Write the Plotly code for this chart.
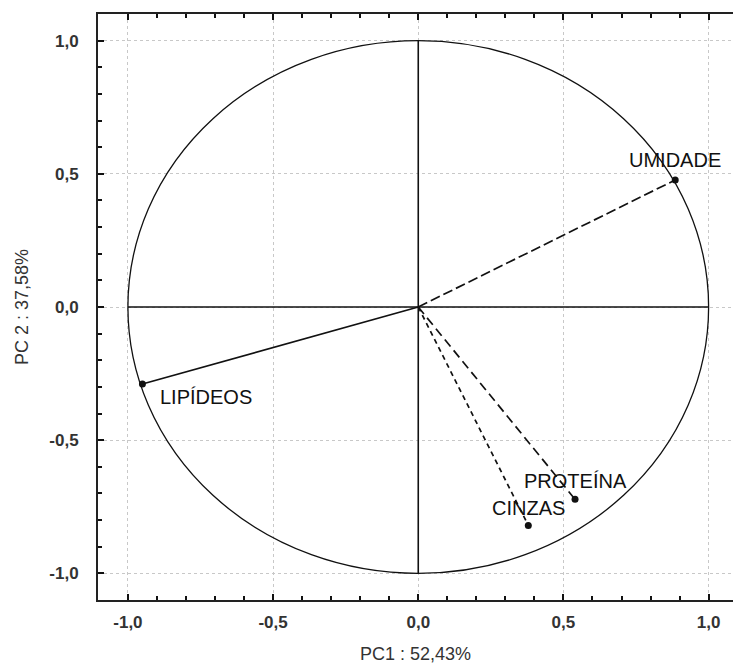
import plotly.graph_objects as go

variables = ["UMIDADE", "LIPÍDEOS", "PROTEÍNA", "CINZAS"]
pc1 = [0.885, -0.950, 0.540, 0.379]
pc2 = [0.477, -0.289, -0.722, -0.820]
tick_vals = [-1.0, -0.5, 0.0, 0.5, 1.0]
tick_text = ["-1,0", "-0,5", "0,0", "0,5", "1,0"]
minor_vals = [-1.0, -0.9, -0.8, -0.7, -0.6, -0.5, -0.4, -0.3, -0.2, -0.1, 0.0,
              0.1, 0.2, 0.3, 0.4, 0.5, 0.6, 0.7, 0.8, 0.9, 1.0]

line_dash = {"UMIDADE": "10px,4px", "LIPÍDEOS": "solid", "PROTEÍNA": "9px,5px", "CINZAS": "5px,4px"}
label_offset = {"UMIDADE": (0, -20), "LIPÍDEOS": (64, 13), "PROTEÍNA": (0, -18), "CINZAS": (0, -17)}

FONT = "Liberation Sans, Arial, sans-serif"

fig = go.Figure()

# axes chords through origin
fig.add_trace(go.Scatter(x=[-1, 1], y=[0, 0], mode="lines",
                         line=dict(color="#111", width=1.6), hoverinfo="skip", showlegend=False))
fig.add_trace(go.Scatter(x=[0, 0], y=[-1, 1], mode="lines",
                         line=dict(color="#111", width=1.6), hoverinfo="skip", showlegend=False))

# unit circle
fig.add_shape(type="circle", x0=-1, y0=-1, x1=1, y1=1, xref="x", yref="y",
              line=dict(color="#111", width=1.3), layer="above")

for name, x, y in zip(variables, pc1, pc2):
    fig.add_trace(go.Scatter(x=[0, x], y=[0, y], mode="lines",
                             line=dict(color="#111", width=1.7, dash=line_dash[name]),
                             hoverinfo="skip", showlegend=False))
    fig.add_trace(go.Scatter(x=[x], y=[y], mode="markers",
                             marker=dict(color="#111", size=7), showlegend=False))

for name, x, y in zip(variables, pc1, pc2):
    dx, dy = label_offset[name]
    fig.add_annotation(x=x, y=y, text=name, showarrow=False, xshift=dx, yshift=-dy,
                       font=dict(family=FONT, size=20, color="#111"))

axis_common = dict(
    tickmode="array",
    tickvals=tick_vals,
    ticktext=tick_text,
    ticks="inside", ticklen=6, tickwidth=2, tickcolor="#111",
    minor=dict(tickmode="array", tickvals=minor_vals, ticks="inside", ticklen=4,
               tickwidth=2, tickcolor="#111", showgrid=False),
    showgrid=True, gridcolor="#c8c8c8", griddash="dot", gridwidth=1,
    zeroline=False,
    showline=True, linecolor="#222", linewidth=2,
    tickfont=dict(family=FONT, size=17, color="#333", weight="bold"),
    layer="above traces",
)

fig.update_xaxes(range=[-1.103, 1.084], mirror="allticks", ticklabelstandoff=6,
                 title=dict(text="PC1 : 52,43%", font=dict(family=FONT, size=18, color="#333"), standoff=16),
                 **axis_common)
fig.update_yaxes(range=[-1.1, 1.1], mirror=False, ticklabelstandoff=14,
                 title=dict(text="PC 2 : 37,58%", font=dict(family=FONT, size=18, color="#333"), standoff=16),
                 **axis_common)

fig.update_layout(
    width=733, height=670,
    margin=dict(l=98, r=0, t=14, b=70),
    plot_bgcolor="white", paper_bgcolor="white",
    separators=",.",
    showlegend=False,
)

fig.write_html("out.html")
